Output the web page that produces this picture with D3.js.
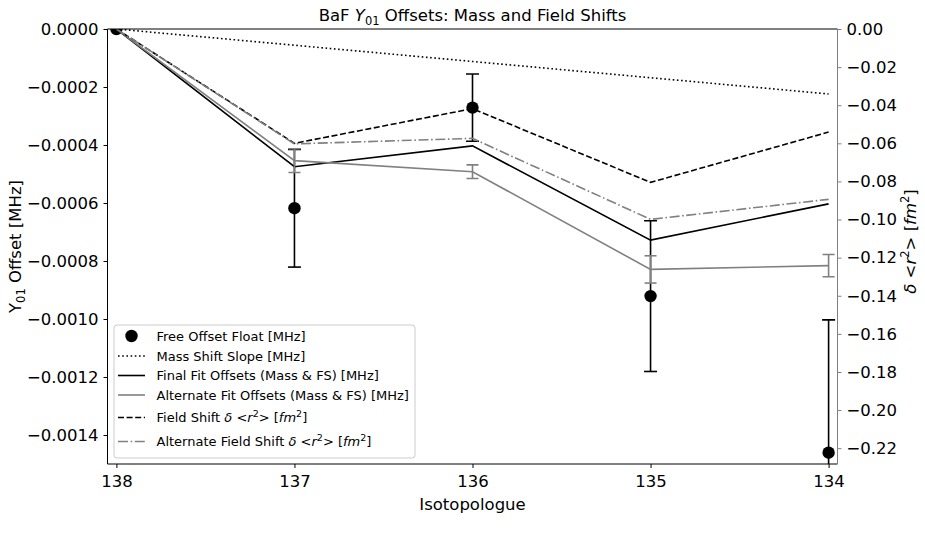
<!DOCTYPE html>
<html><head>
<meta charset="utf-8">
<script src="https://d3js.org/d3.v7.min.js"></script>
<style>
  body { margin: 0; background: #fff; }
  text { font-family: "DejaVu Sans", sans-serif; fill: #000; }
  .it { font-style: italic; }
</style>
</head>
<body>
<svg id="chart" width="925" height="554"></svg>
<script>

// Data
const isotopes = [138, 137, 136, 135, 134];
const freeOffset = [0, -0.000618, -0.000271, -0.000921, -0.001461];   // MHz
const freeOffsetErr = [0, 0.000203, 0.000116, 0.000260, 0.000458];
const massShift = [0, -0.000056, -0.000112, -0.000168, -0.000224];     // MHz
const finalFit = [0, -0.000475, -0.000403, -0.000728, -0.000603];      // MHz
const altFit = [0, -0.000454, -0.000492, -0.000829, -0.000816];        // MHz
const altFitErr = [0, 0.000041, 0.0000235, 0.000047, 0.0000385];
const fieldShift = [0, -0.0600, -0.0418, -0.0805, -0.0541];            // fm^2
const altFieldShift = [0, -0.0603, -0.0574, -0.0999, -0.0894];         // fm^2

const leftTicks = [0, -0.0002, -0.0004, -0.0006, -0.0008, -0.0010, -0.0012, -0.0014];
const rightTicks = [0, -0.02, -0.04, -0.06, -0.08, -0.10, -0.12, -0.14, -0.16, -0.18, -0.20, -0.22];

const svg = d3.select("#chart");
const m = { left: 107.5, right: 837.5, top: 29, bottom: 464 };
const GRAY = "#808080";

const x = d3.scaleLinear().domain([138.05, 133.95]).range([m.left, m.right]);
const yL = d3.scaleLinear().domain([-0.0015, 0]).range([m.bottom, m.top]);
const yR = d3.scaleLinear().domain([-0.2283, 0]).range([m.bottom, m.top]);

svg.append("clipPath").attr("id", "clip")
   .append("rect").attr("x", m.left).attr("y", m.top)
   .attr("width", m.right - m.left).attr("height", m.bottom - m.top);

const plot = svg.append("g").attr("clip-path", "url(#clip)");

function drawLine(vals, scale, color, dash) {
  const line = d3.line().x((d, i) => x(isotopes[i])).y(d => scale(d));
  plot.append("path").datum(vals)
      .attr("d", line)
      .attr("fill", "none")
      .attr("stroke", color)
      .attr("stroke-width", 1.6)
      .attr("stroke-dasharray", dash || null);
}

function drawErrors(vals, errs, color, cap) {
  const g = plot.append("g").attr("stroke", color).attr("stroke-width", 1.6);
  vals.forEach((v, i) => {
    if (!errs[i]) return;
    const cx = x(isotopes[i]);
    const y1 = yL(v + errs[i]), y2 = yL(v - errs[i]);
    g.append("line").attr("x1", cx).attr("x2", cx).attr("y1", y1).attr("y2", y2);
    [y1, y2].forEach(yy => g.append("line")
      .attr("x1", cx - cap).attr("x2", cx + cap).attr("y1", yy).attr("y2", yy));
  });
}

// left axis series
drawErrors(freeOffset, freeOffsetErr, "#000", 6.5);
plot.selectAll("circle.free").data(freeOffset).join("circle")
    .attr("class", "free")
    .attr("cx", (d, i) => x(isotopes[i]))
    .attr("cy", d => yL(d))
    .attr("r", 6.2)
    .attr("fill", "#000");
drawLine(massShift, yL, "#000", "1.6,2.6");
drawLine(finalFit, yL, "#000");
drawErrors(altFit, altFitErr, GRAY, 6);
drawLine(altFit, yL, GRAY);

// right axis series
drawLine(fieldShift, yR, "#000", "6,2.6");
drawLine(altFieldShift, yR, GRAY, "10,2.6,1.6,2.6");

// axes
const fs = 16.5;
const gx = svg.append("g").attr("transform", `translate(0,${m.bottom})`)
  .call(d3.axisBottom(x).tickValues(isotopes).tickFormat(d3.format("d")).tickSizeOuter(0).tickSize(4).tickPadding(7));
const gl = svg.append("g").attr("transform", `translate(${m.left},0)`)
  .call(d3.axisLeft(yL).tickValues(leftTicks).tickFormat(d3.format(".4f")).tickSizeOuter(0).tickSize(4).tickPadding(5));
const gr = svg.append("g").attr("transform", `translate(${m.right},0)`)
  .call(d3.axisRight(yR).tickValues(rightTicks).tickFormat(d3.format(".2f")).tickSizeOuter(0).tickSize(4).tickPadding(5));

[gx, gl, gr].forEach(g => {
  g.select(".domain").remove();
  g.selectAll("text").attr("font-family", "DejaVu Sans").attr("font-size", fs).attr("fill", "#000");
  g.selectAll("line").attr("stroke-width", 1);
});
gr.selectAll("line").attr("stroke", GRAY);

// spines
svg.append("line").attr("x1", m.left).attr("x2", m.left).attr("y1", m.top).attr("y2", m.bottom).attr("stroke", "#000");
svg.append("line").attr("x1", m.left).attr("x2", m.right).attr("y1", m.top).attr("y2", m.top).attr("stroke", "#000");
svg.append("line").attr("x1", m.left).attr("x2", m.right).attr("y1", m.bottom).attr("y2", m.bottom).attr("stroke", "#000");
svg.append("line").attr("x1", m.right).attr("x2", m.right).attr("y1", m.top).attr("y2", m.bottom).attr("stroke", GRAY);

// title
const cxm = (m.left + m.right) / 2;
const title = svg.append("text").attr("x", cxm).attr("y", 21).attr("text-anchor", "middle").attr("font-size", 16.5);
title.append("tspan").text("BaF ");
title.append("tspan").attr("class", "it").text("Y");
title.append("tspan").attr("font-size", 11.5).attr("dy", 4).text("01");
title.append("tspan").attr("dy", -4).text(" Offsets: Mass and Field Shifts");

// x label
svg.append("text").attr("x", cxm).attr("y", 510).attr("text-anchor", "middle").attr("font-size", fs).text("Isotopologue");

// left label
const yl = svg.append("text").attr("transform", `translate(21,${(m.top + m.bottom) / 2}) rotate(-90)`)
  .attr("text-anchor", "middle").attr("font-size", fs);
yl.append("tspan").text("Y");
yl.append("tspan").attr("font-size", 11.5).attr("dy", 4).text("01");
yl.append("tspan").attr("dy", -4).text(" Offset [MHz]");

// right label
function deltaR(t, base, sup) {
  t.append("tspan").attr("class", "it").text("δ");
  t.append("tspan").text(" <");
  t.append("tspan").attr("class", "it").text("r");
  t.append("tspan").attr("font-size", sup).attr("dy", -base * 0.4).text("2");
  t.append("tspan").attr("dy", base * 0.4).text("> [");
  t.append("tspan").attr("class", "it").text("fm");
  t.append("tspan").attr("font-size", sup).attr("dy", -base * 0.4).text("2");
  t.append("tspan").attr("dy", base * 0.4).text("]");
}
const yr = svg.append("text").attr("transform", `translate(916,${(m.top + m.bottom) / 2 - 5}) rotate(-90)`)
  .attr("text-anchor", "middle").attr("font-size", fs);
deltaR(yr, fs, 11.5);

// legend
const lg = svg.append("g");
lg.append("rect").attr("x", 114).attr("y", 325).attr("width", 301).attr("height", 133)
  .attr("rx", 3).attr("fill", "#fff").attr("fill-opacity", 0.8).attr("stroke", "#ccc");
const lfs = 13;
const rows = [
  { y: 336, label: "Free Offset Float [MHz]", marker: true },
  { y: 356, label: "Mass Shift Slope [MHz]", color: "#000", dash: "1.6,2.6" },
  { y: 375.5, label: "Final Fit Offsets (Mass & FS) [MHz]", color: "#000" },
  { y: 395, label: "Alternate Fit Offsets (Mass & FS) [MHz]", color: GRAY },
  { y: 417.5, label: "Field Shift ", color: "#000", dash: "6,2.6", math: true },
  { y: 441.5, label: "Alternate Field Shift ", color: GRAY, dash: "10,2.6,1.6,2.6", math: true }
];
rows.forEach(r => {
  if (r.marker) {
    lg.append("circle").attr("cx", 131.5).attr("cy", r.y).attr("r", 6.2).attr("fill", "#000");
  } else {
    lg.append("line").attr("x1", 118).attr("x2", 145).attr("y1", r.y).attr("y2", r.y)
      .attr("stroke", r.color).attr("stroke-width", 1.6).attr("stroke-dasharray", r.dash || null);
  }
  const t = lg.append("text").attr("x", 156.5).attr("y", r.y + 4.5).attr("font-size", lfs);
  t.append("tspan").text(r.label);
  if (r.math) deltaR(t, lfs, 9.5);
});

</script>
</body>
</html>
